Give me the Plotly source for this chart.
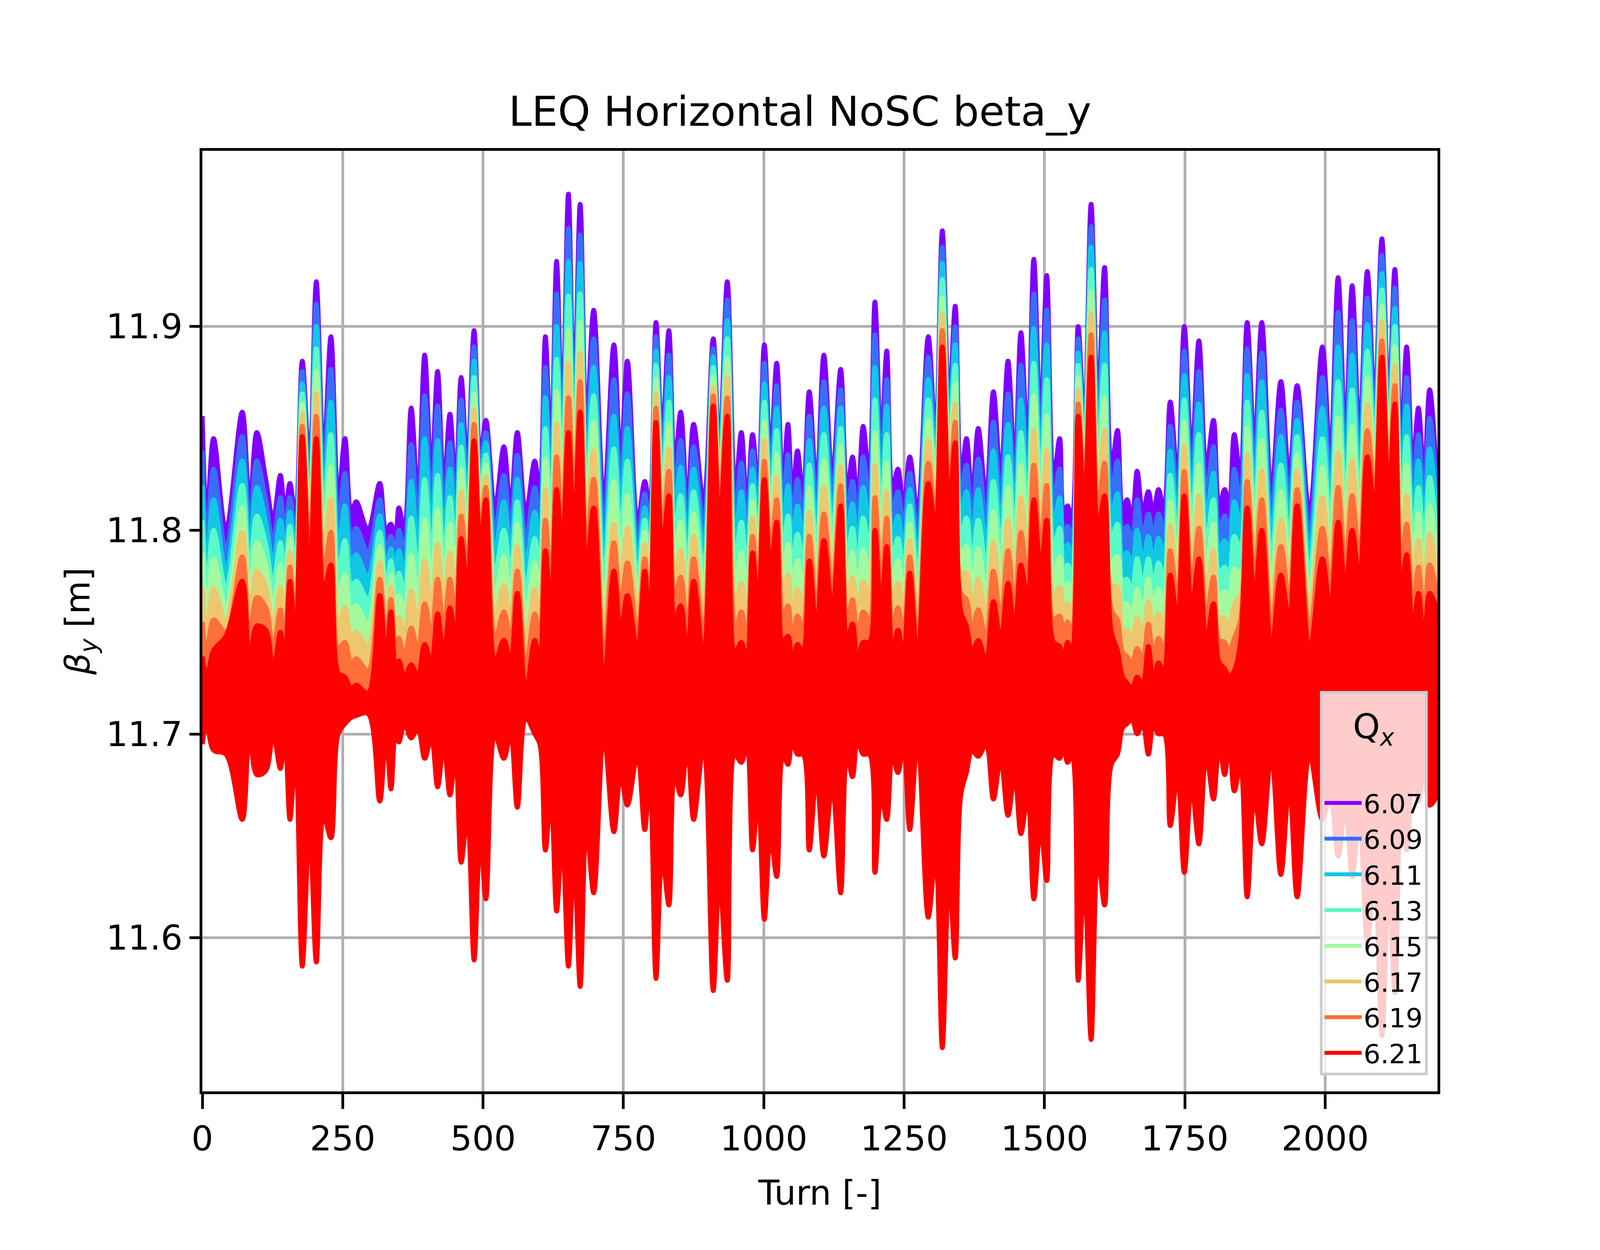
import plotly.graph_objects as go

# envelope of beta_y oscillation at lobe peaks and the dips between them
turn = [0, 8, 20, 42, 71, 84, 97, 113, 126, 139,
        147, 156, 166, 178, 191, 203, 216, 229, 242, 254,
        265, 274, 295, 316, 327, 336, 344, 350, 360, 372,
        384, 396, 408, 419, 430, 441, 451, 461, 472, 484,
        495, 505, 521, 537, 549, 561, 576, 592, 601, 611,
        621, 631, 641, 652, 662, 673, 684, 697, 715, 733,
        745, 757, 775, 788, 797, 808, 819, 831, 841, 852,
        864, 875, 893, 910, 921, 935, 949, 960, 970, 980,
        990, 1001, 1012, 1023, 1034, 1043, 1051, 1060, 1070, 1081,
        1094, 1107, 1122, 1137, 1148, 1158, 1167, 1177, 1188, 1198,
        1209, 1219, 1229, 1239, 1249, 1260, 1274, 1293, 1306, 1318,
        1330, 1341, 1351, 1361, 1371, 1382, 1396, 1409, 1422, 1435,
        1447, 1458, 1470, 1481, 1493, 1504, 1516, 1527, 1534, 1541,
        1549, 1560, 1571, 1583, 1595, 1607, 1619, 1630, 1639, 1647,
        1656, 1665, 1675, 1685, 1694, 1703, 1713, 1724, 1737, 1749,
        1762, 1775, 1788, 1801, 1811, 1821, 1829, 1838, 1849, 1861,
        1874, 1887, 1904, 1921, 1936, 1950, 1972, 1995, 2009, 2023,
        2036, 2048, 2061, 2075, 2088, 2101, 2113, 2124, 2135, 2145,
        2156, 2166, 2176, 2186, 2200]

q607 = [11.856, 11.805, 11.845, 11.800, 11.858, 11.812, 11.848, 11.825, 11.805, 11.827,
        11.808, 11.823, 11.805, 11.883, 11.830, 11.922, 11.835, 11.895, 11.815, 11.845,
        11.808, 11.814, 11.800, 11.823, 11.800, 11.803, 11.795, 11.811, 11.800, 11.860,
        11.815, 11.886, 11.825, 11.878, 11.820, 11.857, 11.820, 11.875, 11.830, 11.898,
        11.835, 11.854, 11.810, 11.841, 11.810, 11.848, 11.808, 11.834, 11.815, 11.895,
        11.835, 11.932, 11.850, 11.965, 11.860, 11.960, 11.850, 11.908, 11.813, 11.891,
        11.832, 11.883, 11.803, 11.824, 11.810, 11.902, 11.845, 11.898, 11.830, 11.858,
        11.811, 11.852, 11.813, 11.894, 11.837, 11.922, 11.818, 11.848, 11.810, 11.847,
        11.820, 11.891, 11.835, 11.882, 11.820, 11.852, 11.815, 11.839, 11.815, 11.868,
        11.820, 11.886, 11.825, 11.879, 11.818, 11.836, 11.812, 11.851, 11.825, 11.912,
        11.840, 11.888, 11.820, 11.830, 11.810, 11.836, 11.808, 11.895, 11.845, 11.947,
        11.860, 11.910, 11.825, 11.845, 11.815, 11.850, 11.815, 11.868, 11.825, 11.883,
        11.830, 11.897, 11.840, 11.933, 11.850, 11.925, 11.825, 11.845, 11.808, 11.812,
        11.805, 11.900, 11.850, 11.960, 11.860, 11.929, 11.830, 11.849, 11.810, 11.815,
        11.805, 11.829, 11.808, 11.819, 11.808, 11.820, 11.810, 11.863, 11.825, 11.900,
        11.835, 11.893, 11.830, 11.854, 11.812, 11.820, 11.810, 11.847, 11.825, 11.902,
        11.840, 11.902, 11.818, 11.873, 11.825, 11.871, 11.808, 11.890, 11.835, 11.924,
        11.845, 11.920, 11.845, 11.927, 11.860, 11.943, 11.860, 11.928, 11.840, 11.890,
        11.830, 11.860, 11.825, 11.869, 11.818]

q609 = [11.839, 11.794, 11.830, 11.790, 11.846, 11.801, 11.834, 11.814, 11.794, 11.816,
        11.798, 11.816, 11.796, 11.878, 11.822, 11.911, 11.826, 11.879, 11.803, 11.828,
        11.796, 11.801, 11.789, 11.815, 11.791, 11.797, 11.786, 11.800, 11.790, 11.842,
        11.803, 11.866, 11.812, 11.861, 11.808, 11.843, 11.809, 11.864, 11.821, 11.890,
        11.829, 11.848, 11.799, 11.827, 11.799, 11.837, 11.795, 11.821, 11.804, 11.880,
        11.824, 11.916, 11.841, 11.948, 11.851, 11.945, 11.840, 11.894, 11.800, 11.874,
        11.820, 11.867, 11.794, 11.818, 11.801, 11.895, 11.837, 11.886, 11.819, 11.844,
        11.800, 11.841, 11.802, 11.889, 11.832, 11.913, 11.807, 11.833, 11.799, 11.839,
        11.811, 11.882, 11.827, 11.871, 11.809, 11.837, 11.804, 11.825, 11.804, 11.856,
        11.810, 11.873, 11.816, 11.869, 11.808, 11.824, 11.801, 11.836, 11.814, 11.896,
        11.829, 11.874, 11.809, 11.819, 11.800, 11.828, 11.798, 11.885, 11.839, 11.939,
        11.853, 11.900, 11.816, 11.832, 11.804, 11.835, 11.804, 11.853, 11.814, 11.867,
        11.819, 11.881, 11.829, 11.916, 11.840, 11.908, 11.814, 11.830, 11.798, 11.802,
        11.796, 11.894, 11.844, 11.949, 11.851, 11.913, 11.819, 11.834, 11.798, 11.802,
        11.793, 11.815, 11.796, 11.808, 11.796, 11.808, 11.799, 11.851, 11.815, 11.888,
        11.824, 11.878, 11.818, 11.841, 11.801, 11.807, 11.798, 11.830, 11.814, 11.889,
        11.829, 11.887, 11.807, 11.859, 11.815, 11.863, 11.798, 11.875, 11.824, 11.907,
        11.834, 11.903, 11.835, 11.914, 11.853, 11.935, 11.854, 11.919, 11.830, 11.875,
        11.819, 11.847, 11.814, 11.855, 11.810]

q611 = [11.822, 11.783, 11.815, 11.780, 11.834, 11.790, 11.821, 11.804, 11.784, 11.805,
        11.787, 11.809, 11.788, 11.872, 11.814, 11.900, 11.816, 11.863, 11.791, 11.812,
        11.783, 11.788, 11.777, 11.807, 11.781, 11.791, 11.776, 11.790, 11.779, 11.824,
        11.790, 11.845, 11.799, 11.844, 11.797, 11.830, 11.799, 11.852, 11.813, 11.883,
        11.822, 11.843, 11.789, 11.814, 11.789, 11.825, 11.783, 11.809, 11.792, 11.865,
        11.814, 11.900, 11.833, 11.932, 11.843, 11.931, 11.830, 11.880, 11.788, 11.856,
        11.809, 11.850, 11.785, 11.811, 11.793, 11.888, 11.829, 11.875, 11.809, 11.831,
        11.790, 11.830, 11.791, 11.885, 11.826, 11.903, 11.796, 11.819, 11.789, 11.830,
        11.803, 11.872, 11.819, 11.860, 11.799, 11.822, 11.792, 11.812, 11.794, 11.844,
        11.800, 11.860, 11.806, 11.860, 11.797, 11.813, 11.790, 11.821, 11.802, 11.880,
        11.817, 11.861, 11.797, 11.807, 11.789, 11.820, 11.787, 11.874, 11.832, 11.931,
        11.846, 11.891, 11.806, 11.819, 11.794, 11.820, 11.792, 11.839, 11.802, 11.852,
        11.807, 11.864, 11.819, 11.899, 11.830, 11.891, 11.802, 11.816, 11.787, 11.793,
        11.786, 11.887, 11.839, 11.939, 11.843, 11.897, 11.807, 11.818, 11.787, 11.789,
        11.781, 11.800, 11.784, 11.797, 11.784, 11.796, 11.787, 11.839, 11.805, 11.876,
        11.814, 11.862, 11.806, 11.828, 11.790, 11.795, 11.787, 11.814, 11.802, 11.876,
        11.819, 11.873, 11.796, 11.846, 11.805, 11.854, 11.789, 11.860, 11.814, 11.890,
        11.824, 11.886, 11.825, 11.901, 11.846, 11.926, 11.847, 11.909, 11.820, 11.861,
        11.807, 11.834, 11.802, 11.840, 11.801]

q613 = [11.805, 11.772, 11.800, 11.771, 11.822, 11.779, 11.807, 11.793, 11.773, 11.794,
        11.777, 11.802, 11.779, 11.867, 11.806, 11.889, 11.807, 11.847, 11.779, 11.795,
        11.771, 11.775, 11.766, 11.799, 11.772, 11.785, 11.767, 11.779, 11.769, 11.806,
        11.778, 11.825, 11.786, 11.827, 11.785, 11.816, 11.788, 11.841, 11.804, 11.875,
        11.816, 11.837, 11.778, 11.800, 11.778, 11.814, 11.770, 11.796, 11.781, 11.850,
        11.803, 11.884, 11.824, 11.915, 11.834, 11.916, 11.820, 11.866, 11.775, 11.840,
        11.797, 11.834, 11.776, 11.805, 11.784, 11.881, 11.821, 11.863, 11.798, 11.817,
        11.779, 11.819, 11.780, 11.880, 11.821, 11.894, 11.785, 11.804, 11.778, 11.822,
        11.794, 11.863, 11.811, 11.849, 11.788, 11.807, 11.781, 11.798, 11.783, 11.832,
        11.790, 11.847, 11.797, 11.850, 11.787, 11.801, 11.779, 11.806, 11.791, 11.864,
        11.806, 11.847, 11.786, 11.796, 11.779, 11.812, 11.777, 11.864, 11.826, 11.923,
        11.839, 11.881, 11.797, 11.806, 11.783, 11.805, 11.781, 11.824, 11.791, 11.836,
        11.796, 11.848, 11.808, 11.882, 11.820, 11.874, 11.791, 11.801, 11.777, 11.783,
        11.777, 11.881, 11.833, 11.928, 11.834, 11.881, 11.796, 11.803, 11.775, 11.776,
        11.769, 11.786, 11.772, 11.786, 11.772, 11.784, 11.776, 11.827, 11.795, 11.864,
        11.803, 11.847, 11.794, 11.815, 11.779, 11.782, 11.775, 11.797, 11.791, 11.863,
        11.808, 11.858, 11.785, 11.832, 11.795, 11.846, 11.779, 11.845, 11.803, 11.873,
        11.813, 11.869, 11.815, 11.888, 11.839, 11.918, 11.841, 11.900, 11.810, 11.846,
        11.796, 11.821, 11.791, 11.826, 11.793]

q615 = [11.789, 11.761, 11.786, 11.762, 11.811, 11.768, 11.794, 11.783, 11.762, 11.783,
        11.766, 11.796, 11.771, 11.862, 11.799, 11.878, 11.798, 11.831, 11.766, 11.778,
        11.759, 11.763, 11.754, 11.792, 11.763, 11.778, 11.758, 11.768, 11.759, 11.788,
        11.765, 11.805, 11.774, 11.810, 11.773, 11.803, 11.777, 11.830, 11.796, 11.867,
        11.809, 11.832, 11.767, 11.787, 11.767, 11.803, 11.758, 11.784, 11.769, 11.835,
        11.792, 11.868, 11.816, 11.898, 11.826, 11.902, 11.810, 11.853, 11.762, 11.824,
        11.785, 11.817, 11.767, 11.799, 11.776, 11.874, 11.814, 11.852, 11.787, 11.804,
        11.769, 11.808, 11.770, 11.875, 11.816, 11.884, 11.773, 11.789, 11.767, 11.814,
        11.786, 11.853, 11.804, 11.837, 11.777, 11.793, 11.769, 11.785, 11.772, 11.821,
        11.780, 11.834, 11.788, 11.841, 11.776, 11.789, 11.768, 11.790, 11.779, 11.848,
        11.794, 11.833, 11.774, 11.785, 11.769, 11.803, 11.766, 11.854, 11.819, 11.914,
        11.831, 11.872, 11.788, 11.792, 11.772, 11.791, 11.769, 11.809, 11.779, 11.821,
        11.784, 11.832, 11.797, 11.866, 11.810, 11.856, 11.779, 11.787, 11.766, 11.774,
        11.768, 11.875, 11.827, 11.917, 11.826, 11.865, 11.784, 11.787, 11.763, 11.764,
        11.758, 11.771, 11.760, 11.776, 11.761, 11.771, 11.764, 11.814, 11.785, 11.853,
        11.792, 11.832, 11.781, 11.803, 11.768, 11.770, 11.763, 11.781, 11.779, 11.850,
        11.797, 11.844, 11.773, 11.819, 11.785, 11.837, 11.769, 11.831, 11.792, 11.855,
        11.802, 11.851, 11.805, 11.875, 11.831, 11.910, 11.834, 11.890, 11.800, 11.832,
        11.784, 11.808, 11.779, 11.812, 11.785]

q617 = [11.772, 11.750, 11.771, 11.755, 11.799, 11.757, 11.780, 11.772, 11.751, 11.772,
        11.756, 11.789, 11.762, 11.857, 11.791, 11.867, 11.789, 11.815, 11.754, 11.762,
        11.747, 11.750, 11.743, 11.784, 11.754, 11.772, 11.749, 11.757, 11.749, 11.770,
        11.753, 11.785, 11.761, 11.793, 11.761, 11.789, 11.766, 11.819, 11.787, 11.859,
        11.803, 11.826, 11.756, 11.773, 11.756, 11.792, 11.745, 11.771, 11.758, 11.820,
        11.781, 11.852, 11.807, 11.882, 11.817, 11.887, 11.800, 11.839, 11.749, 11.803,
        11.773, 11.801, 11.758, 11.793, 11.767, 11.867, 11.806, 11.840, 11.776, 11.790,
        11.758, 11.797, 11.759, 11.870, 11.811, 11.875, 11.762, 11.774, 11.756, 11.806,
        11.777, 11.844, 11.796, 11.826, 11.766, 11.778, 11.758, 11.771, 11.761, 11.809,
        11.770, 11.821, 11.779, 11.831, 11.766, 11.777, 11.757, 11.775, 11.768, 11.832,
        11.783, 11.819, 11.763, 11.774, 11.759, 11.795, 11.756, 11.844, 11.813, 11.906,
        11.824, 11.862, 11.779, 11.779, 11.761, 11.776, 11.758, 11.794, 11.768, 11.805,
        11.773, 11.816, 11.786, 11.849, 11.800, 11.839, 11.768, 11.772, 11.756, 11.764,
        11.759, 11.869, 11.821, 11.906, 11.817, 11.849, 11.773, 11.772, 11.751, 11.751,
        11.746, 11.757, 11.748, 11.765, 11.749, 11.759, 11.753, 11.802, 11.775, 11.841,
        11.781, 11.817, 11.769, 11.790, 11.757, 11.757, 11.751, 11.764, 11.768, 11.837,
        11.786, 11.829, 11.762, 11.805, 11.775, 11.829, 11.759, 11.816, 11.781, 11.838,
        11.791, 11.834, 11.795, 11.862, 11.824, 11.902, 11.828, 11.881, 11.790, 11.817,
        11.773, 11.795, 11.768, 11.798, 11.777]

q619 = [11.755, 11.739, 11.756, 11.750, 11.787, 11.746, 11.767, 11.762, 11.741, 11.761,
        11.745, 11.782, 11.754, 11.851, 11.783, 11.856, 11.779, 11.799, 11.742, 11.745,
        11.734, 11.737, 11.731, 11.776, 11.744, 11.766, 11.739, 11.747, 11.738, 11.752,
        11.740, 11.764, 11.748, 11.776, 11.750, 11.776, 11.756, 11.807, 11.779, 11.852,
        11.796, 11.821, 11.746, 11.760, 11.746, 11.780, 11.733, 11.759, 11.746, 11.805,
        11.771, 11.836, 11.799, 11.865, 11.809, 11.873, 11.790, 11.825, 11.737, 11.794,
        11.762, 11.784, 11.749, 11.786, 11.759, 11.860, 11.798, 11.829, 11.766, 11.777,
        11.748, 11.786, 11.748, 11.866, 11.805, 11.865, 11.751, 11.760, 11.746, 11.797,
        11.769, 11.834, 11.788, 11.815, 11.756, 11.763, 11.746, 11.758, 11.751, 11.797,
        11.760, 11.808, 11.769, 11.822, 11.755, 11.766, 11.746, 11.760, 11.756, 11.816,
        11.771, 11.806, 11.751, 11.762, 11.748, 11.787, 11.745, 11.833, 11.806, 11.898,
        11.817, 11.853, 11.769, 11.766, 11.751, 11.761, 11.746, 11.780, 11.756, 11.790,
        11.761, 11.799, 11.776, 11.832, 11.790, 11.822, 11.756, 11.758, 11.745, 11.755,
        11.749, 11.862, 11.816, 11.896, 11.809, 11.833, 11.761, 11.756, 11.740, 11.738,
        11.734, 11.742, 11.736, 11.754, 11.737, 11.747, 11.741, 11.790, 11.765, 11.829,
        11.771, 11.801, 11.757, 11.777, 11.746, 11.745, 11.740, 11.747, 11.756, 11.824,
        11.776, 11.815, 11.751, 11.792, 11.765, 11.820, 11.750, 11.801, 11.771, 11.821,
        11.781, 11.817, 11.785, 11.849, 11.817, 11.893, 11.821, 11.871, 11.780, 11.803,
        11.761, 11.782, 11.756, 11.783, 11.768]

q621 = [11.738, 11.728, 11.741, 11.748, 11.775, 11.735, 11.753, 11.751, 11.730, 11.750,
        11.735, 11.775, 11.745, 11.846, 11.775, 11.845, 11.770, 11.783, 11.730, 11.728,
        11.722, 11.724, 11.720, 11.768, 11.735, 11.760, 11.730, 11.736, 11.728, 11.734,
        11.728, 11.744, 11.735, 11.759, 11.738, 11.762, 11.745, 11.796, 11.770, 11.844,
        11.790, 11.815, 11.735, 11.746, 11.735, 11.769, 11.720, 11.746, 11.735, 11.790,
        11.760, 11.820, 11.790, 11.848, 11.800, 11.858, 11.780, 11.811, 11.724, 11.780,
        11.750, 11.768, 11.740, 11.780, 11.750, 11.853, 11.790, 11.817, 11.755, 11.763,
        11.737, 11.775, 11.737, 11.861, 11.800, 11.856, 11.740, 11.745, 11.735, 11.789,
        11.760, 11.825, 11.780, 11.804, 11.745, 11.748, 11.735, 11.744, 11.740, 11.785,
        11.750, 11.795, 11.760, 11.812, 11.745, 11.754, 11.735, 11.745, 11.745, 11.800,
        11.760, 11.792, 11.740, 11.751, 11.738, 11.779, 11.735, 11.823, 11.800, 11.890,
        11.810, 11.843, 11.760, 11.753, 11.740, 11.746, 11.735, 11.765, 11.745, 11.774,
        11.750, 11.783, 11.765, 11.815, 11.780, 11.805, 11.745, 11.743, 11.735, 11.745,
        11.740, 11.856, 11.810, 11.885, 11.800, 11.817, 11.750, 11.741, 11.728, 11.725,
        11.722, 11.728, 11.724, 11.743, 11.725, 11.735, 11.730, 11.778, 11.755, 11.817,
        11.760, 11.786, 11.745, 11.764, 11.735, 11.732, 11.728, 11.731, 11.745, 11.811,
        11.765, 11.800, 11.740, 11.778, 11.755, 11.812, 11.740, 11.786, 11.760, 11.804,
        11.770, 11.800, 11.775, 11.836, 11.810, 11.885, 11.815, 11.862, 11.770, 11.788,
        11.750, 11.769, 11.745, 11.769, 11.760]

# lower edge of the Qx = 6.21 band (the deepest one, the others stay hidden under it)
q621_low = [11.695, 11.705, 11.692, 11.690, 11.658, 11.700, 11.680, 11.682, 11.700, 11.683,
            11.700, 11.658, 11.690, 11.586, 11.655, 11.588, 11.660, 11.649, 11.700, 11.705,
            11.708, 11.709, 11.710, 11.667, 11.700, 11.673, 11.702, 11.696, 11.705, 11.698,
            11.703, 11.688, 11.698, 11.674, 11.695, 11.670, 11.690, 11.637, 11.660, 11.589,
            11.650, 11.619, 11.700, 11.688, 11.700, 11.664, 11.708, 11.700, 11.695, 11.643,
            11.670, 11.613, 11.650, 11.586, 11.640, 11.576, 11.655, 11.622, 11.700, 11.652,
            11.680, 11.665, 11.690, 11.653, 11.680, 11.580, 11.640, 11.616, 11.680, 11.670,
            11.695, 11.658, 11.695, 11.574, 11.630, 11.579, 11.690, 11.686, 11.695, 11.643,
            11.670, 11.609, 11.650, 11.630, 11.690, 11.685, 11.698, 11.690, 11.690, 11.643,
            11.680, 11.640, 11.675, 11.622, 11.690, 11.679, 11.698, 11.690, 11.690, 11.632,
            11.670, 11.658, 11.690, 11.681, 11.695, 11.653, 11.698, 11.610, 11.640, 11.546,
            11.630, 11.590, 11.670, 11.681, 11.692, 11.689, 11.695, 11.668, 11.688, 11.660,
            11.680, 11.651, 11.670, 11.619, 11.655, 11.628, 11.690, 11.688, 11.698, 11.686,
            11.690, 11.579, 11.630, 11.550, 11.640, 11.616, 11.685, 11.690, 11.703, 11.705,
            11.707, 11.700, 11.705, 11.690, 11.705, 11.700, 11.700, 11.655, 11.680, 11.632,
            11.675, 11.646, 11.690, 11.668, 11.695, 11.680, 11.698, 11.672, 11.685, 11.620,
            11.670, 11.646, 11.690, 11.631, 11.675, 11.620, 11.690, 11.658, 11.670, 11.640,
            11.665, 11.630, 11.660, 11.598, 11.630, 11.552, 11.625, 11.573, 11.665, 11.643,
            11.680, 11.667, 11.685, 11.665, 11.670]

qx = ['6.07', '6.09', '6.11', '6.13', '6.15', '6.17', '6.19', '6.21']
colors = ['#8000ff', '#376ff9', '#12c7e6', '#5bf9c7', '#a4f99f', '#edc76f', '#ff6f39', '#ff0000']
series = [q607, q609, q611, q613, q615, q617, q619, q621]

fig = go.Figure()

for name, col, up in zip(qx, colors, series):
    last = name == '6.21'
    # base trace, the band is filled up from it
    fig.add_trace(go.Scatter(x=turn, y=q621_low, mode='lines',
                             line=dict(color=col, width=12 if last else 0, shape='spline'),
                             showlegend=False, hoverinfo='skip'))
    fig.add_trace(go.Scatter(x=turn, y=up, mode='lines', fill='tonexty', fillcolor=col,
                             line=dict(color=col, width=12, shape='spline'),
                             name=name, showlegend=False))

# legend entries drawn as plain lines, like the matplotlib legend
for name, col in zip(qx, colors):
    fig.add_trace(go.Scatter(x=[None], y=[None], mode='lines', name=name,
                             line=dict(color=col, width=13)))

axis_common = dict(showline=True, mirror=True, linecolor='black', linewidth=7,
                   ticks='outside', tickwidth=7, tickcolor='black',
                   showgrid=True, gridcolor='#b0b0b0', gridwidth=7, zeroline=False,
                   tickfont=dict(size=88, color='black'))

fig.update_layout(
    autosize=True,
    margin=dict(l=510, r=408, t=378, b=398),
    paper_bgcolor='white', plot_bgcolor='white',
    font=dict(family='DejaVu Sans', color='black'),
    title=dict(text='LEQ Horizontal NoSC beta_y', x=0.5, xanchor='center',
               y=0.913, yanchor='middle', yref='container', font=dict(size=106)),
    xaxis=dict(range=[0, 2200], tickvals=[0, 250, 500, 750, 1000, 1250, 1500, 1750, 2000],
               ticklen=38,
               title=dict(text='Turn [-]', font=dict(size=88), standoff=60),
               **axis_common),
    yaxis=dict(range=[11.5246, 11.9862], tickvals=[11.6, 11.7, 11.8, 11.9],
               ticktext=['11.6', '11.7', '11.8', '11.9'], ticklen=26,
               title=dict(text='<i>β</i><sub><i>y</i></sub> [m]', font=dict(size=88), standoff=15),
               **axis_common),
    legend=dict(x=0.992, y=0.017, xanchor='right', yanchor='bottom',
                bgcolor='rgba(255,255,255,0.8)', bordercolor='#cccccc', borderwidth=7,
                font=dict(size=68), traceorder='normal', itemwidth=95,
                title=dict(text='Q<sub><i>x</i></sub><br>', side='top center', font=dict(size=88))),
    showlegend=True,
)

# keep the margins in the same proportion as the original figure, whatever the window size
post = """
var gd = document.getElementById('{plot_id}');
var w = gd.clientWidth, h = gd.clientHeight;
Plotly.relayout(gd, {'margin.l': 0.125 * w, 'margin.r': 0.1 * w,
                     'margin.t': 0.11875 * h, 'margin.b': 0.125 * h});
"""

fig.write_html('out.html', post_script=post)
